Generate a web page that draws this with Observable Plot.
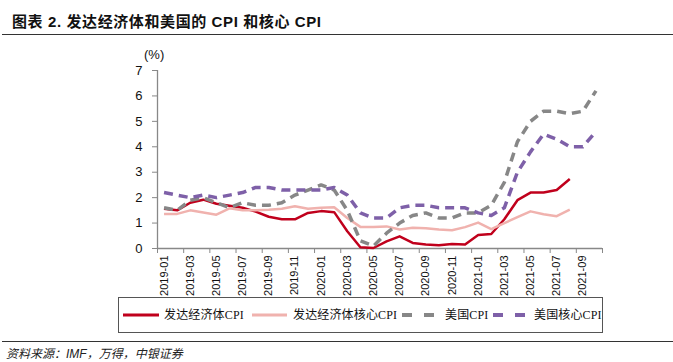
<!DOCTYPE html>
<html>
<head>
<meta charset="utf-8">
<script src="https://cdn.jsdelivr.net/npm/d3@7"></script>
<script src="https://cdn.jsdelivr.net/npm/@observablehq/plot@0.6"></script>
<style>
  body { margin: 0; width: 673px; height: 362px; position: relative; background: #fff; overflow: hidden;
         font-family: "Liberation Sans", Arial, "Noto Sans CJK SC", sans-serif; }
  #title { position: absolute; left: 12px; top: 10px; font-size: 15px; font-weight: bold; color: #111;
           font-family: "Liberation Sans", "Noto Sans CJK SC", sans-serif; letter-spacing: 0.6px; white-space: nowrap; }
  .hr { position: absolute; left: 2px; width: 671px; height: 0; border-top: 1.5px solid #333; }
  #caption { position: absolute; left: 6px; top: 344px; font-size: 12px; font-style: italic; color: #222;
             font-family: "Liberation Sans", "Noto Sans CJK SC", sans-serif; white-space: nowrap; }
  #chart { position: absolute; left: 0; top: 40px; }
  #unit { position: absolute; left: 144px; top: 47px; font-size: 13px; color: #111; }
  #legend { position: absolute; left: 118px; top: 297px; width: 485px; height: 36px; box-sizing: border-box;
            border: 1px solid #555;
            font-family: "Liberation Serif", "Noto Sans CJK SC", serif; font-size: 12px; color: #111; white-space: nowrap; }
  #legend svg { position: absolute; top: 12px; }
  #legend span { position: absolute; top: 9px; letter-spacing: 0.15px; line-height: 16px; }
</style>
</head>
<body>
<div id="title">图表 2. 发达经济体和美国的 CPI 和核心 CPI</div>
<div class="hr" style="top:34px"></div>
<div id="chart"></div>
<div id="unit">(%)</div>
<div id="legend"></div>
<div class="hr" style="top:341px"></div>
<div id="caption">资料来源：IMF，万得，中银证券</div>
<script>
const months = [
  "2019-01","2019-02","2019-03","2019-04","2019-05","2019-06","2019-07","2019-08","2019-09","2019-10","2019-11","2019-12",
  "2020-01","2020-02","2020-03","2020-04","2020-05","2020-06","2020-07","2020-08","2020-09","2020-10","2020-11","2020-12",
  "2021-01","2021-02","2021-03","2021-04","2021-05","2021-06","2021-07","2021-08","2021-09","2021-10"
];
const yTicks = [0, 1, 2, 3, 4, 5, 6, 7];

// 发达经济体CPI
const devCPI = [1.56,1.5,1.8,1.92,1.76,1.68,1.6,1.45,1.25,1.15,1.15,1.4,
                1.47,1.43,0.68,0.05,0.02,0.28,0.48,0.22,0.16,0.13,0.18,0.16,
                0.53,0.57,1.15,1.9,2.2,2.2,2.3,2.73];
// 发达经济体核心CPI
const devCore = [1.36,1.36,1.5,1.42,1.33,1.58,1.5,1.5,1.52,1.56,1.66,1.56,
                 1.6,1.62,1.2,0.85,0.85,0.87,0.75,0.82,0.8,0.75,0.72,0.84,
                 1.02,0.76,1.0,1.23,1.46,1.35,1.27,1.53];
// 美国CPI
const usCPI = [1.6,1.5,1.9,2.0,1.8,1.6,1.8,1.7,1.7,1.8,2.1,2.3,
               2.5,2.3,1.5,0.3,0.1,0.6,1.0,1.3,1.4,1.2,1.2,1.4,
               1.4,1.7,2.6,4.2,5.0,5.4,5.4,5.3,5.4,6.2];
// 美国核心CPI
const usCore = [2.2,2.1,2.0,2.1,2.0,2.1,2.2,2.4,2.4,2.3,2.3,2.3,
                2.3,2.4,2.1,1.4,1.2,1.2,1.6,1.7,1.7,1.6,1.6,1.6,
                1.4,1.3,1.6,3.0,3.8,4.5,4.3,4.0,4.0,4.6];

const seriesNames = ["发达经济体CPI", "发达经济体核心CPI", "美国CPI", "美国核心CPI"];
const seriesValues = [devCPI, devCore, usCPI, usCore];
const seriesStyle = [
  {stroke: "#C0001C", width: 2.5, dash: null},
  {stroke: "#F0B2AE", width: 2.5, dash: null},
  {stroke: "#878787", width: 3.5, dash: "9,6"},
  {stroke: "#7E60A8", width: 3.5, dash: "9,6"}
];

const lineMarks = seriesNames.map((name, k) => {
  const data = seriesValues[k].map((v, i) => ({series: name, month: months[i], pos: i + 0.5, value: v}));
  const st = seriesStyle[k];
  return Plot.line(data, {x: "pos", y: "value", stroke: st.stroke, strokeWidth: st.width,
                          strokeDasharray: st.dash, strokeLinejoin: "round", strokeLinecap: "butt"});
});

const tickPositions = d3.range(0, months.length + 1, 2);
const labelPositions = d3.range(0, months.length, 2).map(i => i + 0.5);

const chart = Plot.plot({
  width: 673, height: 257,
  marginLeft: 157, marginRight: 71, marginTop: 30, marginBottom: 49,
  x: {domain: [0, months.length], axis: null},
  y: {domain: [0, 7], axis: null},
  style: {fontFamily: "Liberation Sans, Arial, sans-serif", color: "#111", background: "transparent"},
  marks: [
    Plot.axisY({ticks: yTicks, tickSize: 5, tickPadding: 10, stroke: "#888", fill: "#111", label: null,
                fontSize: 13, tickFormat: d => String(d)}),
    Plot.axisX({ticks: tickPositions, tickSize: 5, tickFormat: () => "", stroke: "#888", label: null}),
    Plot.axisX({ticks: labelPositions, tickSize: 0, tickPadding: 7, tickRotate: -90, label: null,
                fontSize: 11, fill: "#111", tickFormat: d => months[Math.round(d - 0.5)]}),
    Plot.ruleX([0], {stroke: "#888", strokeWidth: 1.3}),
    Plot.ruleY([0], {stroke: "#888", strokeWidth: 1.3}),
    ...lineMarks
  ]
});
document.getElementById("chart").appendChild(chart);

// legend layout (pixels within the legend box)
const legend = document.getElementById("legend");
const swatchLeft = [4, 133, 283, 374];
const swatchW = [36, 35, 32, 34];
const textLeft = [45, 174, 326, 415];
seriesNames.forEach((name, k) => {
  const st = seriesStyle[k];
  const w = swatchW[k];
  legend.insertAdjacentHTML("beforeend",
    `<svg style="left:${swatchLeft[k]}px" width="${w}" height="10"><line x1="0" y1="5" x2="${w}" y2="5" stroke="${st.stroke}"
     stroke-width="${st.width + 0.5}" ${st.dash ? `stroke-dasharray="10,12"` : ""}/></svg>` +
    `<span style="left:${textLeft[k]}px">${name}</span>`);
});
</script>
</body>
</html>
